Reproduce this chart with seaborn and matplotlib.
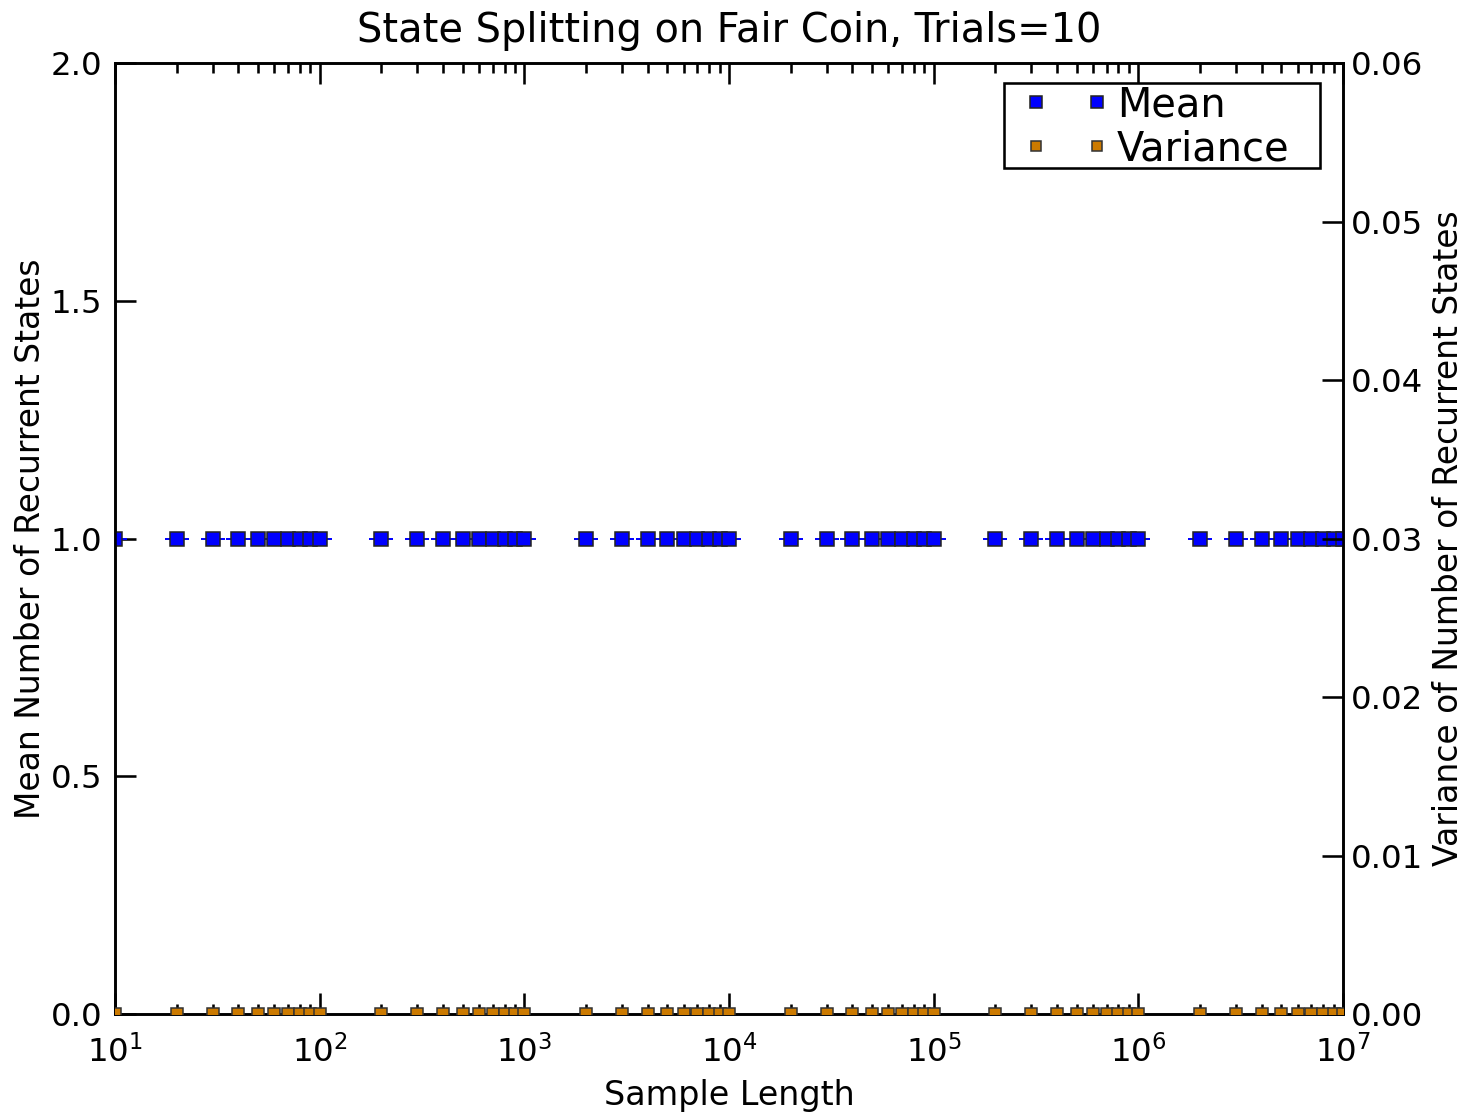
import matplotlib
matplotlib.use("Agg")
import matplotlib.pyplot as plt
from matplotlib.patches import Rectangle
import seaborn as sns
import pandas as pd
from matplotlib.ticker import LogLocator, FixedLocator

# Sample lengths used in the experiment
sample_lengths = [
    10, 20, 30, 40, 50, 60, 70, 80, 90,
    100, 200, 300, 400, 500, 600, 700, 800, 900,
    1000, 2000, 3000, 4000, 5000, 6000, 7000, 8000, 9000,
    10000, 20000, 30000, 40000, 50000, 60000, 70000, 80000, 90000,
    100000, 200000, 300000, 400000, 500000, 600000, 700000, 800000, 900000,
    1000000, 2000000, 3000000, 4000000, 5000000, 6000000, 7000000, 8000000, 9000000,
    10000000,
]
# Mean and variance of recurrent-state counts over 10 trials
mean_states = [
    1.0, 1.0, 1.0, 1.0, 1.0, 1.0, 1.0, 1.0, 1.0,
    1.0, 1.0, 1.0, 1.0, 1.0, 1.0, 1.0, 1.0, 1.0,
    1.0, 1.0, 1.0, 1.0, 1.0, 1.0, 1.0, 1.0, 1.0,
    1.0, 1.0, 1.0, 1.0, 1.0, 1.0, 1.0, 1.0, 1.0,
    1.0, 1.0, 1.0, 1.0, 1.0, 1.0, 1.0, 1.0, 1.0,
    1.0, 1.0, 1.0, 1.0, 1.0, 1.0, 1.0, 1.0, 1.0,
    1.0,
]
var_states = [
    0.0, 0.0, 0.0, 0.0, 0.0, 0.0, 0.0, 0.0, 0.0,
    0.0, 0.0, 0.0, 0.0, 0.0, 0.0, 0.0, 0.0, 0.0,
    0.0, 0.0, 0.0, 0.0, 0.0, 0.0, 0.0, 0.0, 0.0,
    0.0, 0.0, 0.0, 0.0, 0.0, 0.0, 0.0, 0.0, 0.0,
    0.0, 0.0, 0.0, 0.0, 0.0, 0.0, 0.0, 0.0, 0.0,
    0.0, 0.0, 0.0, 0.0, 0.0, 0.0, 0.0, 0.0, 0.0,
    0.0,
]
series_labels = ["Mean", "Variance"]
x_ticks = [1e1, 1e2, 1e3, 1e4, 1e5, 1e6, 1e7]
left_ticks = [0.0, 0.5, 1.0, 1.5, 2.0]
right_ticks = [0.0, 0.01, 0.02, 0.03, 0.04, 0.05, 0.06]

df = pd.DataFrame({"length": sample_lengths, "mean": mean_states, "var": var_states})

sns.set_style("white")
plt.rcParams["font.family"] = ["DejaVu Sans"]
plt.rcParams["font.size"] = 12
plt.rcParams["text.color"] = "black"
plt.rcParams["axes.labelcolor"] = "black"
plt.rcParams["xtick.color"] = "black"
plt.rcParams["ytick.color"] = "black"
plt.rcParams["xtick.direction"] = "in"
plt.rcParams["ytick.direction"] = "in"

MEAN_C = "#0000ff"
VAR_C = "#cc7a00"
TICK_FS = 12.6

fig = plt.figure(figsize=(1469 / 185, 1116 / 185), dpi=185)
ax = fig.add_axes([0.0783, 0.0914, 0.9142 - 0.0783, 0.9435 - 0.0914])
ax2 = ax.twinx()

# Mean with (zero-width) error bars from the variance
ax.errorbar(df["length"], df["mean"], yerr=df["var"], fmt="none",
            ecolor=MEAN_C, capsize=4.5, elinewidth=0.7, capthick=0.7, zorder=2)
sns.lineplot(data=df, x="length", y="mean", ax=ax, linestyle="", marker="s",
             markersize=5.3, color=MEAN_C, markeredgecolor="#222222",
             markeredgewidth=0.6, label=series_labels[0], legend=False, zorder=3)
sns.lineplot(data=df, x="length", y="var", ax=ax2, linestyle="", marker="s",
             markersize=4.7, color=VAR_C, markeredgecolor="#333333",
             markeredgewidth=0.6, label=series_labels[1], legend=False, zorder=3)

ax.set_xscale("log")
ax.set_xlim(10, 1e7)
ax.set_ylim(0, 2.0)
ax2.set_ylim(0, 0.06)
ax.yaxis.set_major_locator(FixedLocator(left_ticks))
ax.set_yticklabels([f"{v:.1f}" for v in left_ticks])
ax2.yaxis.set_major_locator(FixedLocator(right_ticks))
ax2.set_yticklabels([f"{v:.2f}" for v in right_ticks])
ax.xaxis.set_major_locator(FixedLocator(x_ticks))
ax.xaxis.set_minor_locator(LogLocator(base=10, subs=range(2, 10), numticks=100))

for a in (ax, ax2):
    for s in a.spines.values():
        s.set_visible(True)
        s.set_color("black")
        s.set_linewidth(1.0)
ax.tick_params(axis="x", which="major", direction="in", length=8, width=1,
               top=True, bottom=True, labelsize=TICK_FS, pad=8)
ax.tick_params(axis="x", which="minor", direction="in", length=4, width=1,
               top=True, bottom=True)
ax.tick_params(axis="y", which="major", direction="in", length=8, width=1,
               left=True, right=False, labelsize=TICK_FS, pad=5)
ax2.tick_params(axis="y", which="major", direction="in", length=8, width=1,
                right=True, left=False, labelsize=TICK_FS, pad=3)

ax.set_xlabel("Sample Length", fontsize=13, labelpad=4)
ax.set_ylabel("Mean Number of Recurrent States", fontsize=12.8, labelpad=1.3)
ax2.set_ylabel("Variance of Number of Recurrent States", fontsize=12.8, labelpad=3.5)
ax.set_title("State Splitting on Fair Coin, Trials=10", fontsize=15.5, pad=8)

h1, l1 = ax.get_legend_handles_labels()
h2, l2 = ax2.get_legend_handles_labels()
h1 = [h for h, l in zip(h1, l1) if l == series_labels[0]]
leg = ax2.legend(h1 + h2, series_labels, loc="center left",
                 bbox_to_anchor=(0.7402, 0.9325), numpoints=2,
                 fontsize=15.5, frameon=False, borderaxespad=0.0,
                 handlelength=2.14, handletextpad=0.2, borderpad=0.0,
                 labelspacing=0.1, markerscale=0.9)
# Legend frame with wide side margins
ax2.add_patch(Rectangle((0.7239, 0.8896), 0.9813 - 0.7239, 0.979 - 0.8896,
                        transform=ax2.transAxes, facecolor="white",
                        edgecolor="black", linewidth=1.0, zorder=4))
leg.set_zorder(5)

fig.savefig("out.png", dpi=185)
